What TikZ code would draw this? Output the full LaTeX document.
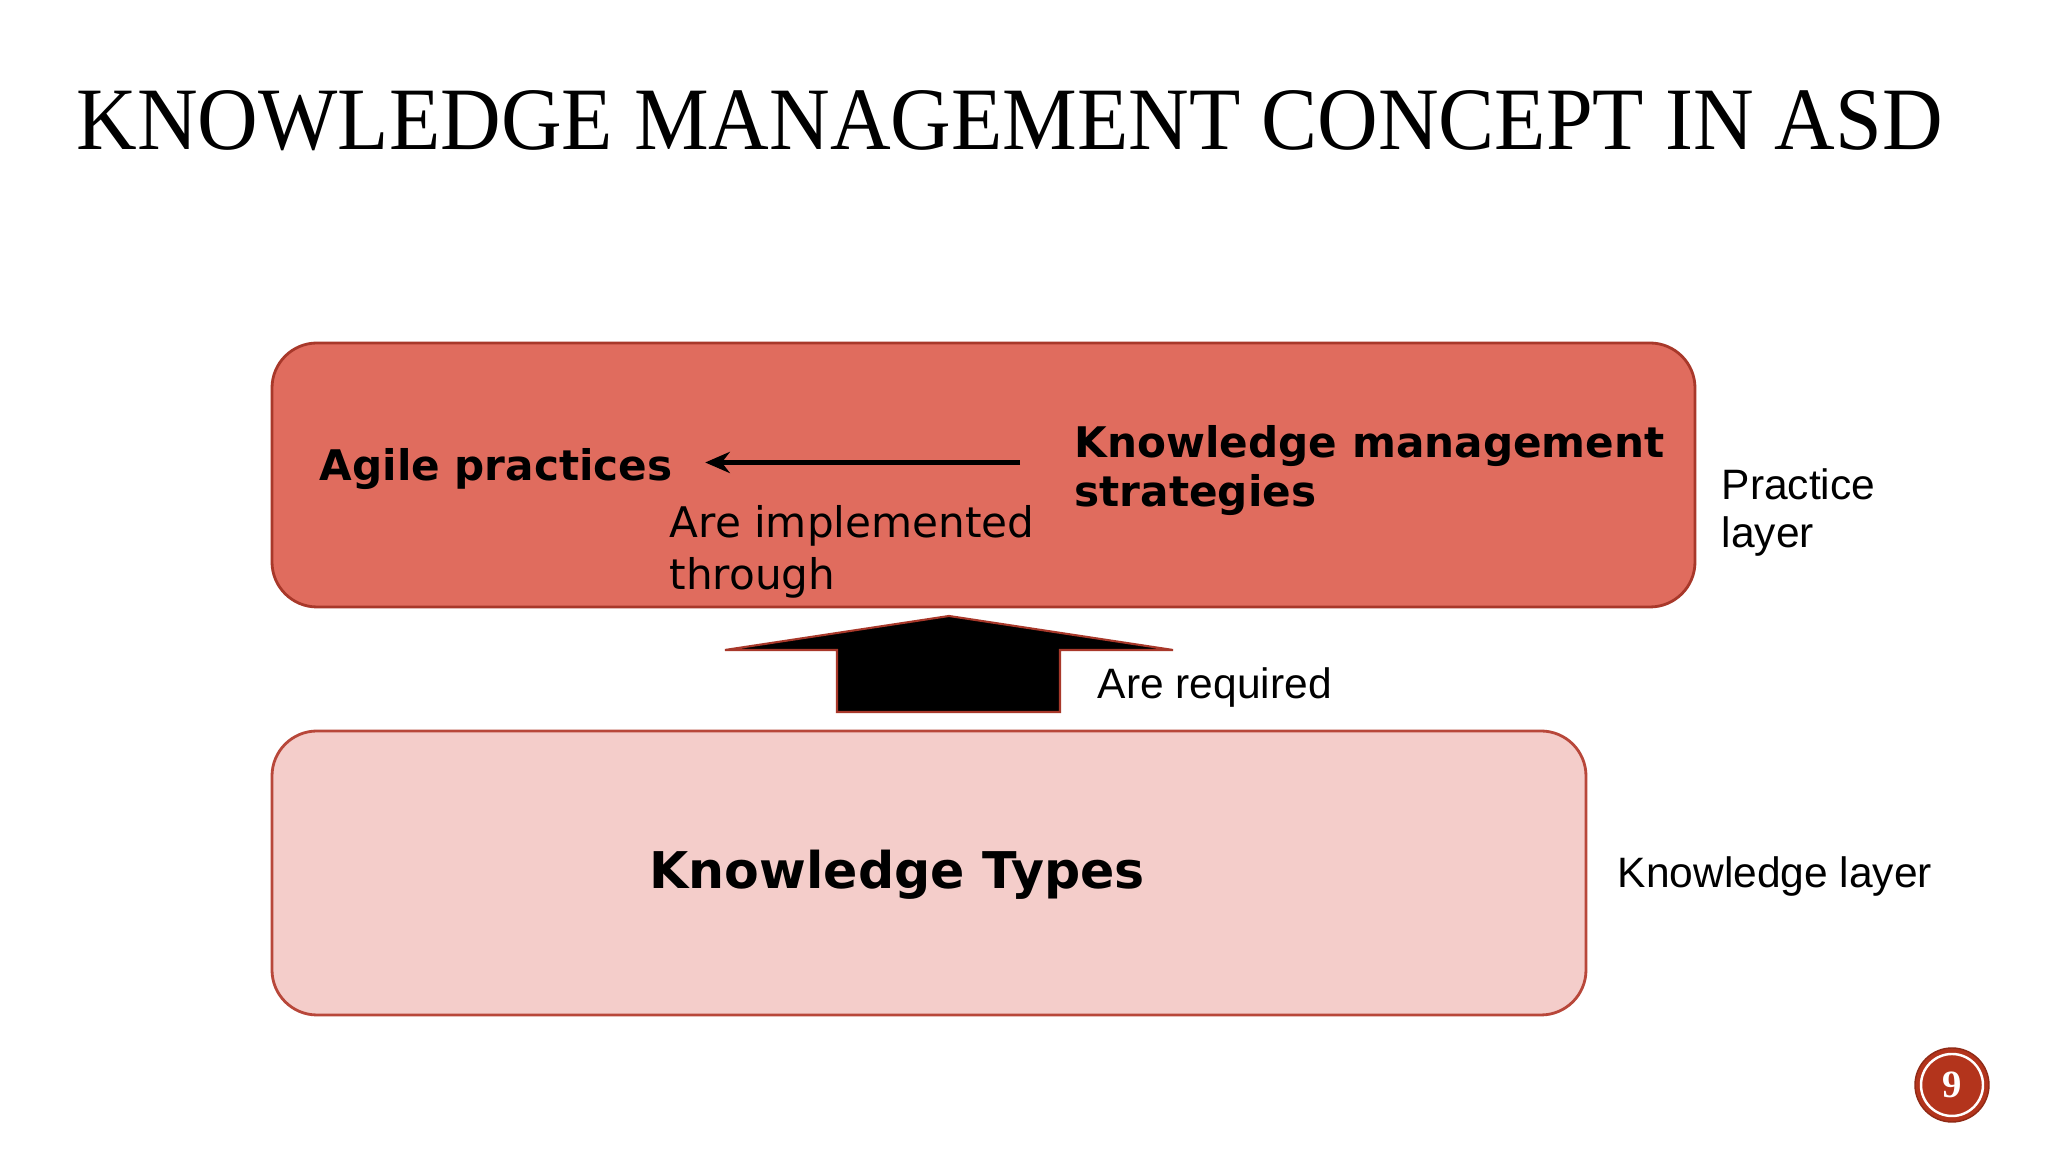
\documentclass[tikz,border=0pt]{standalone}
\usepackage{fontspec}
\usepackage{graphicx}
\usetikzlibrary{arrows.meta}
\newfontfamily\boxfont{DejaVu Sans}
\newfontfamily\labelfont{Liberation Sans}
\newfontfamily\headfont{Liberation Serif}
\definecolor{practicefill}{HTML}{E06C5E}
\definecolor{practiceedge}{HTML}{A8382A}
\definecolor{knowfill}{HTML}{F4CDCA}
\definecolor{knowedge}{HTML}{B8473A}
\definecolor{badge}{HTML}{B3341C}
\tikzset{
	layerbox/.style={draw, line width=0.8pt, rounded corners=0.45cm, inner sep=0pt},
	boldtext/.style={inner sep=0pt, anchor=base west, align=left, font=\boxfont\bfseries\fontsize{12}{14.2}\selectfont},
	plaintext/.style={inner sep=0pt, anchor=base west, align=left, font=\boxfont\fontsize{12}{14.8}\selectfont},
	sidetext/.style={inner sep=0pt, anchor=base west, align=left, font=\labelfont\fontsize{12.1}{13.7}\selectfont}
}

\begin{document}
\begin{tikzpicture}
			%%%%% START %%%%%
			
			\fill[white] (0, 0) rectangle (20.48, 11.52);
			\useasboundingbox (0, 0) rectangle (20.48, 11.52);
			
			\node[anchor=base west, inner sep=0pt] (title) at (0.76, 10.02) {\resizebox{18.66cm}{0.59cm}{\headfont KNOWLEDGE MANAGEMENT CONCEPT IN ASD}};
			
			% practice layer (multi-line nodes sit on their last baseline)
			\node[layerbox, fill=practicefill, draw=practiceedge, minimum width=14.23cm, minimum height=2.64cm] (practice) at (9.835, 6.77) {};
			\node[boldtext] (agile) at (3.19, 6.71) {Agile practices};
			\node[boldtext] (kms) at (10.74, 6.45) {Knowledge management\\strategies};
			\node[plaintext] (impl) at (6.69, 5.62) {Are implemented\\through};
			\draw[line width=1.2pt, -{Stealth[length=7pt, width=6pt]}, shorten <=0.54cm, shorten >=0.32cm] ([yshift=2pt]agile.east -| kms.west) -- ([yshift=2pt]agile.east);
			\node[sidetext] (plabel) at (17.21, 6.04) {Practice\\layer};
			
			% block arrow
			\filldraw[fill=black, draw=practiceedge, line width=0.6pt] (9.49, 5.36) -- (11.73, 5.02) -- (10.60, 5.02) -- (10.60, 4.40) -- (8.37, 4.40) -- (8.37, 5.02) -- (7.25, 5.02) -- cycle;
			\node[sidetext] (req) at (10.97, 4.53) {Are required};
			
			% knowledge layer
			\node[layerbox, fill=knowfill, draw=knowedge, minimum width=13.14cm, minimum height=2.84cm] (know) at (9.29, 2.79) {};
			\node[boldtext, font=\boxfont\bfseries\fontsize{14.4}{17}\selectfont] (types) at (6.49, 2.63) {Knowledge Types};
			\node[sidetext] (klabel) at (16.17, 2.64) {Knowledge layer};
			
			% page number
			\node[circle, fill=badge, draw=badge!80!black, line width=0.4pt, minimum size=0.74cm, inner sep=0pt, text=white, font=\headfont\bfseries\fontsize{11}{12}\selectfont] (page) at (19.52, 0.67) {9};
			\draw[white, line width=0.7pt] (page.center) circle (0.31);
			
			%%%%% END %%%%%
\end{tikzpicture}
\end{document}
